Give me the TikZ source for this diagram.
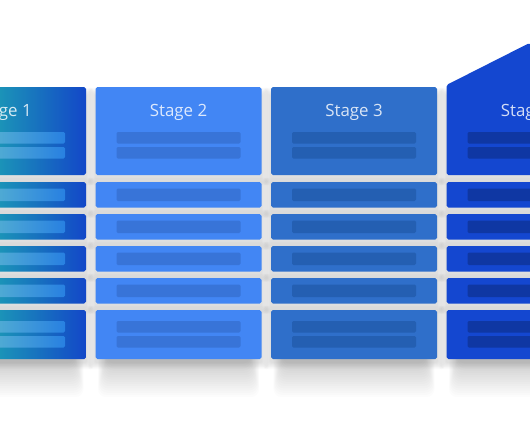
\documentclass[tikz,border=0pt]{standalone}
\usepackage{fontspec}
\setmainfont{Open Sans}
\usetikzlibrary{calc}

\definecolor{stageoneL}{RGB}{34,217,169}
\definecolor{stageoneR}{RGB}{19,71,200}
\definecolor{baroneL}{RGB}{113,207,200}
\definecolor{baroneR}{RGB}{40,128,225}
\definecolor{stagetwo}{RGB}{66,134,244}
\definecolor{bartwo}{RGB}{56,116,216}
\definecolor{stagethree}{RGB}{47,111,202}
\definecolor{barthree}{RGB}{36,95,178}
\definecolor{stagefour}{RGB}{20,71,208}
\definecolor{barfour}{RGB}{15,55,163}

\tikzset{
  stagebox/.style={rounded corners=2.5pt},
  stagebar/.style={rounded corners=2pt},
  boxshadow/.style={fill=black, opacity=0.016, rounded corners=3pt},
  dropshadow/.style={fill=black, opacity=0.01, rounded corners=12pt},
  stagelabel/.style={font=\fontsize{24}{28}\selectfont, text=white, text opacity=0.82, inner sep=0pt},
  col1/.style={left color=stageoneL, right color=stageoneR},
  col2/.style={fill=stagetwo},
  col3/.style={fill=stagethree},
  col4/.style={fill=stagefour},
  bar1/.style={left color=baroneL, right color=baroneR},
  bar2/.style={fill=bartwo},
  bar3/.style={fill=barthree},
  bar4/.style={fill=barfour}
}

\begin{document}
\begin{tikzpicture}[x=0.5mm, y=-0.5mm]
\useasboundingbox (0,0) rectangle (530,442);
% soft shadows: one under each column, one tight round each box
\foreach \x in {-80,95.5,271,446.5}{
  \foreach \s in {1,...,16}
    \path[dropshadow] (\x+12-\s*0.6,330-\s) rectangle (\x+154+\s*0.6,362+\s*2.2);
  \foreach \t/\b in {92/175,182/207.5,214/239.5,246/271.5,278/303.5,310/359}{
    \foreach \s in {1,...,8}
      \path[boxshadow] (\x-\s*0.9,\t-\s*0.9+3) rectangle (\x+166+\s*0.9,\b+\s*0.9+3);
  }
}
% the four columns
\foreach \c/\x in {1/-80,2/95.5,3/271,4/446.5}{
  \foreach \t/\b in {182/207.5,214/239.5,246/271.5,278/303.5}{
    \path[stagebox,col\c] (\x,\t) rectangle (\x+166,\b);
    \path[stagebar,bar\c] (\x+21,\t+6.5) rectangle (\x+145,\t+19);
  }
  \path[stagebox,col\c] (\x,310) rectangle (\x+166,359);
  \path[stagebar,bar\c] (\x+21,321) rectangle (\x+145,332.5);
  \path[stagebar,bar\c] (\x+21,336) rectangle (\x+145,347.5);
}
% headers
\foreach \c/\x in {1/-80,2/95.5,3/271}{
  \path[stagebox,col\c] (\x,87) rectangle (\x+166,175);
}
\path[stagebox,col4] (446.5,175) -- (446.5,85) -- (529.5,43) -- (612.5,85) -- (612.5,175) -- cycle;
\foreach \c/\x in {1/-80,2/95.5,3/271,4/446.5}{
  \node[stagelabel] (stage\c) at (\x+83,112) {Stage \c};
  \path[stagebar,bar\c] (\x+21,132) rectangle (\x+145,143.5);
  \path[stagebar,bar\c] (\x+21,147) rectangle (\x+145,158.5);
}
\end{tikzpicture}
\end{document}
